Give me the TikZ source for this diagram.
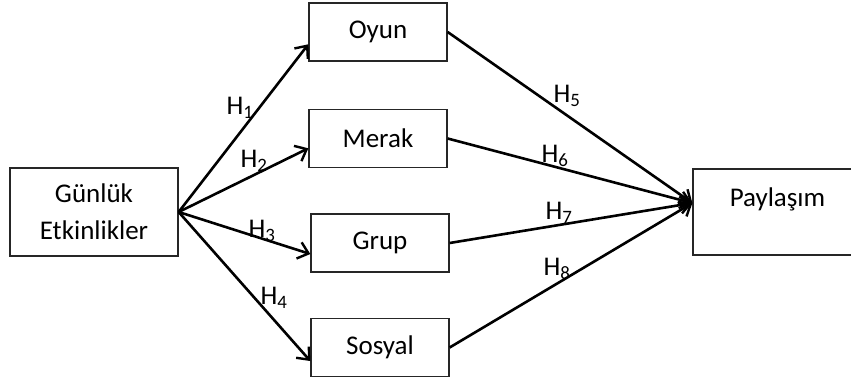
\documentclass[tikz,border=0pt]{standalone}
\usepackage{fontspec}
\setmainfont{Carlito}
\usetikzlibrary{arrows.meta}

\begin{document}
\begin{tikzpicture}[x=1pt,y=-1pt,font=\fontsize{27}{37}\selectfont,
  every node/.style={inner sep=0pt},
  box/.style={draw=black!85,line width=1.3pt,minimum width=138pt,minimum height=58pt},
  hyp/.style={line width=2.6pt,-{Straight Barb[length=10pt,width=17pt,line width=2.4pt]}}]
\useasboundingbox (0,0) rectangle (851,380);

\node[box,minimum width=168pt,minimum height=88pt,align=center] (gun) at (94,212) {Günlük\\Etkinlikler};
\node[box] (oyun) at (378,32) {Oyun};
\node[box] (merak) at (378,138.5) {Merak};
\node[box] (grup) at (380,243) {Grup};
\node[box] (sosyal) at (380,347.5) {Sosyal};
\node[box,minimum width=169pt,minimum height=86pt,align=center] (pay) at (777.5,212) {Paylaşım\\[-8pt]\mbox{}};

\node (h1) at (240,108) {H\textsubscript{1}};
\node (h2) at (254,161) {H\textsubscript{2}};
\node (h3) at (262,231) {H\textsubscript{3}};
\node (h4) at (274,298) {H\textsubscript{4}};
\node (h5) at (567,96) {H\textsubscript{5}};
\node (h6) at (555,156) {H\textsubscript{6}};
\node (h7) at (559,213) {H\textsubscript{7}};
\node (h8) at (557,269) {H\textsubscript{8}};

%\draw (gun) -- (each box)
\draw[hyp](gun.east)--(oyun.190.7);
\draw[hyp](gun.east)--(merak.188.7);
\draw[hyp](gun.east)--(grup.189.9);
\draw[hyp](gun.east)--(sosyal.191.9);

\draw[hyp](oyun.east)--(pay.174);
\draw[hyp](merak.east)--(pay.174);
\draw[hyp](grup.east)--(pay.174);
\draw[hyp](sosyal.east)--(pay.174);
\end{tikzpicture}
\end{document}
